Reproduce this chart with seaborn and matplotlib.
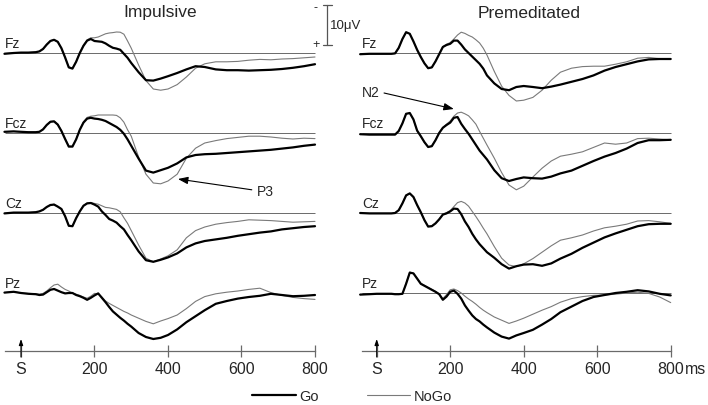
import numpy as np
import pandas as pd
import matplotlib
matplotlib.use("Agg")
import matplotlib.pyplot as plt
import seaborn as sns
from matplotlib.lines import Line2D

# ---------------- data (microvolts, positive plotted downward) ----------------
time_ms = [-45, -20, 0, 20, 40, 50, 60, 70, 80, 90,
           100, 110, 120, 130, 140, 150, 160, 170, 180, 190,
           200, 210, 220, 230, 240, 250, 260, 270, 280, 290,
           300, 320, 340, 360, 380, 400, 425, 450, 475, 500,
           530, 560, 590, 620, 650, 680, 710, 740, 770, 800]

electrodes = ["Fz", "Fcz", "Cz", "Pz"]
tick_ms = [0, 200, 400, 600, 800]
tick_labels = ["S", "200", "400", "600", "800"]
conditions = ["Go", "NoGo"]
panel_titles = ["Impulsive", "Premeditated"]

imp_go_fz = [0.2, 0.0, -0.1, -0.1, -0.2, -0.4, -1.0, -2.1, -3.0, -3.3,
             -2.8, -1.2, 1.1, 3.6, 3.9, 2.2, 0.0, -1.8, -3.1, -3.5,
             -3.0, -2.9, -2.8, -2.4, -1.8, -1.3, -1.1, -0.8, 0.2, 1.2,
             2.5, 4.8, 6.8, 6.9, 6.4, 5.8, 5.0, 4.1, 3.3, 3.5,
             4.1, 4.3, 4.3, 4.4, 4.3, 4.2, 4.0, 3.7, 3.3, 2.8]
imp_nogo_fz = [0.1, 0.0, -0.1, -0.1, -0.2, -0.4, -1.1, -2.2, -3.1, -3.3,
               -2.8, -1.1, 1.2, 3.5, 3.8, 2.1, -0.1, -2.0, -3.3, -3.8,
               -3.8, -4.0, -4.4, -4.8, -5.0, -5.1, -5.25, -5.2, -4.7, -3.0,
               -1.2, 3.0, 6.9, 9.0, 9.3, 9.0, 7.9, 6.0, 3.8, 2.7,
               2.2, 2.2, 2.1, 1.8, 1.6, 1.7, 1.5, 1.4, 1.2, 1.0]
imp_go_fcz = [-0.3, -0.4, -0.3, -0.2, -0.2, -0.3, -0.9, -2.0, -2.8, -2.9,
              -2.1, -0.5, 1.5, 3.4, 3.4, 1.6, -0.8, -2.6, -3.6, -3.8,
              -3.6, -3.5, -3.3, -3.0, -2.5, -2.0, -1.5, -0.8, 0.2, 1.6,
              3.2, 6.4, 9.4, 9.9, 9.3, 8.7, 7.6, 6.1, 5.5, 5.3,
              5.2, 5.0, 4.8, 4.6, 4.4, 4.2, 3.9, 3.6, 3.2, 2.9]
imp_nogo_fcz = [-0.3, -0.4, -0.3, -0.2, -0.2, -0.3, -1.0, -2.1, -2.9, -3.0,
                -2.2, -0.6, 1.4, 3.3, 3.3, 1.5, -0.9, -2.8, -3.9, -4.2,
                -4.3, -4.5, -4.5, -4.5, -4.5, -4.5, -4.4, -3.8, -2.7, -0.8,
                0.8, 6.0, 10.3, 12.5, 12.7, 12.0, 10.3, 6.3, 3.8, 2.5,
                1.9, 1.4, 1.1, 0.8, 0.8, 1.0, 1.3, 1.5, 1.3, 1.4]
imp_go_cz = [0.1, -0.1, -0.1, -0.1, -0.2, -0.4, -0.8, -1.5, -2.0, -2.1,
             -1.6, -1.0, 0.8, 3.2, 3.3, 1.3, -0.4, -1.8, -2.4, -2.5,
             -2.1, -1.6, -0.4, 0.5, 1.5, 1.9, 2.4, 3.3, 4.1, 5.5,
             6.8, 9.6, 11.8, 12.2, 11.7, 11.1, 10.1, 8.6, 7.6, 7.0,
             6.6, 6.2, 5.7, 5.3, 4.9, 4.6, 4.1, 3.8, 3.5, 3.3]
imp_nogo_cz = [0.1, -0.1, -0.1, -0.1, -0.2, -0.4, -0.8, -1.5, -2.0, -2.2,
               -1.6, -1.0, 0.8, 3.1, 3.2, 1.2, -0.5, -1.9, -2.5, -2.6,
               -2.4, -2.2, -1.8, -1.4, -1.3, -1.1, -0.9, -0.3, 1.2, 2.6,
               4.4, 8.0, 11.3, 12.2, 11.5, 10.7, 9.2, 6.2, 4.4, 3.5,
               2.8, 2.4, 2.1, 1.7, 1.8, 1.9, 2.1, 2.3, 2.2, 2.1]
imp_go_pz = [-0.1, -0.3, 0.0, 0.2, 0.3, 0.5, 0.4, -0.2, -0.8, -1.0,
             -0.6, -0.2, 0.1, 0.0, 0.0, 0.5, 0.8, 1.2, 1.7, 1.2,
             0.6, 0.1, 1.2, 2.3, 3.5, 4.6, 5.4, 6.2, 6.9, 7.7,
             8.4, 10.0, 11.0, 11.5, 11.2, 10.5, 9.1, 7.3, 5.8, 4.3,
             2.7, 2.0, 1.4, 1.0, 0.7, 0.2, 0.5, 0.8, 0.7, 0.5]
imp_nogo_pz = [-0.1, -0.3, 0.0, 0.1, 0.2, 0.3, 0.1, -0.5, -1.3, -2.0,
               -2.2, -1.5, -0.9, -0.5, 0.0, 0.3, 0.6, 1.0, 1.3, 0.8,
               0.1, 0.2, 1.0, 2.0, 2.6, 3.1, 3.6, 4.1, 4.6, 5.0,
               5.5, 6.3, 7.1, 7.7, 7.0, 6.4, 5.5, 3.9, 2.1, 0.9,
               0.2, -0.2, -0.5, -0.9, -1.2, -0.1, 0.6, 1.1, 1.4, 1.6]

prem_go_fz = [0.3, 0.2, 0.2, 0.2, 0.2, 0.1, -1.3, -3.5, -5.2, -4.8,
              -2.9, -0.8, 1.0, 2.6, 3.8, 3.6, 2.1, 0.3, -1.5, -2.0,
              -2.3, -3.1, -3.1, -2.1, -0.9, 0.0, 0.9, 1.8, 2.7, 3.9,
              5.6, 7.6, 9.0, 9.3, 8.5, 8.25, 8.5, 8.8, 8.4, 7.9,
              7.2, 6.5, 5.6, 4.4, 3.5, 2.8, 2.1, 1.6, 1.5, 1.5]
prem_nogo_fz = [0.3, 0.2, 0.2, 0.2, 0.2, 0.1, -1.3, -3.5, -5.2, -4.8,
                -2.9, -0.8, 1.0, 2.6, 3.8, 3.6, 2.0, 0.2, -1.6, -2.2,
                -2.6, -3.5, -4.5, -5.2, -4.9, -4.4, -4.0, -3.3, -2.5, -1.2,
                0.5, 4.6, 8.3, 10.6, 12.0, 11.8, 11.1, 9.3, 6.8, 4.8,
                3.8, 3.4, 3.3, 3.3, 2.8, 2.2, 1.3, 1.1, 1.4, 1.4]
prem_go_fcz = [0.3, 0.4, 0.4, 0.4, 0.4, 0.4, -0.5, -2.4, -4.8, -5.0,
               -3.4, -0.6, 0.8, 2.3, 3.5, 3.3, 1.8, 0.0, -1.3, -2.0,
               -2.6, -3.8, -4.0, -2.3, -1.0, 0.2, 1.6, 3.0, 4.4, 5.5,
               6.6, 9.3, 11.3, 12.0, 11.5, 11.1, 11.3, 11.4, 10.9, 10.1,
               9.4, 8.2, 7.0, 5.9, 5.0, 3.9, 2.5, 1.8, 1.8, 1.7]
prem_nogo_fcz = [0.3, 0.4, 0.4, 0.4, 0.4, 0.4, -0.6, -2.5, -4.8, -4.9,
                 -3.3, -0.6, 0.9, 2.4, 3.5, 3.2, 1.7, -0.1, -1.4, -2.2,
                 -3.0, -4.2, -5.0, -5.2, -4.8, -4.3, -3.3, -2.2, -0.4, 1.3,
                 3.0, 6.3, 9.9, 13.0, 14.2, 13.3, 11.0, 8.8, 7.0, 5.8,
                 5.3, 4.7, 3.6, 2.5, 2.8, 2.5, 1.4, 1.3, 1.5, 1.7]
prem_go_cz = [0.0, 0.1, 0.1, 0.1, 0.1, 0.0, -0.7, -2.4, -4.4, -4.9,
              -4.0, -2.0, -0.2, 1.8, 3.4, 3.3, 2.6, 1.6, 0.4, 0.1,
              -0.4, -1.1, -1.0, 0.3, 2.1, 3.5, 5.2, 6.6, 7.8, 8.8,
              9.8, 11.2, 12.8, 13.9, 13.3, 12.9, 12.8, 13.2, 12.6, 11.4,
              10.2, 8.7, 7.4, 6.1, 5.1, 4.2, 3.3, 2.8, 2.7, 2.7]
prem_nogo_cz = [0.0, 0.1, 0.1, 0.1, 0.1, 0.0, -0.8, -2.5, -4.5, -4.9,
                -3.9, -1.9, -0.1, 1.8, 3.3, 3.2, 2.5, 1.5, 0.3, -0.1,
                -0.6, -1.6, -2.6, -2.9, -2.5, -1.7, -0.4, 0.9, 2.3, 3.8,
                5.2, 8.4, 11.3, 13.0, 13.4, 12.7, 11.4, 9.8, 8.2, 6.8,
                6.2, 5.5, 4.5, 3.7, 3.3, 2.8, 2.0, 1.9, 2.2, 2.6]
prem_go_pz = [0.4, 0.3, 0.2, 0.2, 0.2, 0.3, 0.3, 0.2, -2.3, -5.1,
              -4.9, -3.6, -2.3, -1.8, -1.3, -0.8, -0.3, 0.3, 1.7, 0.9,
              -0.3, -0.6, 0.2, 1.4, 3.1, 4.4, 5.6, 6.5, 7.1, 7.9,
              8.6, 9.9, 10.9, 11.4, 10.6, 10.0, 9.2, 7.9, 6.5, 4.8,
              3.4, 2.0, 1.0, 0.5, 0.0, -0.3, -0.7, -0.4, 0.2, 0.6]
prem_nogo_pz = [0.4, 0.3, 0.2, 0.2, 0.2, 0.3, 0.3, 0.2, -2.4, -5.2,
                -4.9, -3.7, -2.4, -1.9, -1.4, -0.9, -0.4, 0.2, 1.4, 0.4,
                -0.8, -1.0, -0.6, 0.0, 0.8, 1.5, 2.1, 2.8, 3.6, 4.3,
                4.9, 6.0, 6.8, 7.6, 7.0, 6.3, 5.3, 4.3, 3.4, 2.3,
                1.4, 0.9, 0.6, 0.5, 0.3, 0.0, -0.2, 0.1, 1.0, 2.4]

scale_uv = 10

panels = [
    {"Go": [imp_go_fz, imp_go_fcz, imp_go_cz, imp_go_pz],
     "NoGo": [imp_nogo_fz, imp_nogo_fcz, imp_nogo_cz, imp_nogo_pz]},
    {"Go": [prem_go_fz, prem_go_fcz, prem_go_cz, prem_go_pz],
     "NoGo": [prem_nogo_fz, prem_nogo_fcz, prem_nogo_cz, prem_nogo_pz]},
]

# ---------------- layout / style ----------------
sns.set_style("white")
plt.rcParams["font.family"] = ["Liberation Sans", "DejaVu Sans"]

W, H = 708, 406
fig = plt.figure(figsize=(W / 100, H / 100), dpi=100)

PX_PER_MS = 0.3675
PX_PER_UV = 4.0
BASE_PX = 54.0
XLIM = (-55, 830)
YLIM = (82, -13)
offsets = [0, 20, 40, 60]
axis_y = 74.5
zero_px = [21.0, 376.7]
start_ms = [-44, -40]
baseline_counts = [3, 4]

GO_COLOR, NOGO_COLOR = "black", "#7a7a7a"
GO_LW, NOGO_LW = 1.6, 0.8
GRID_COLOR = "#6a6a6a"


def make_ax(zp):
    x0 = zp + XLIM[0] * PX_PER_MS
    x1 = zp + XLIM[1] * PX_PER_MS
    y_top = BASE_PX + YLIM[1] * PX_PER_UV
    y_bot = BASE_PX + YLIM[0] * PX_PER_UV
    ax = fig.add_axes([x0 / W, 1 - y_bot / H, (x1 - x0) / W, (y_bot - y_top) / H])
    return ax


axes = []
for p, series in enumerate(panels):
    ax = make_ax(zero_px[p])
    rows = []
    for cond in conditions:
        for el, off, vals in zip(electrodes, offsets, series[cond]):
            for t, v in zip(time_ms, vals):
                rows.append((t, v + off, cond, el))
    df = pd.DataFrame(rows, columns=["time", "y", "cond", "electrode"])

    # baselines
    ax.hlines(offsets[:baseline_counts[p]], start_ms[p], 800,
              color=GRID_COLOR, lw=0.7, zorder=1)

    sns.lineplot(data=df[df.cond == "NoGo"], x="time", y="y", units="electrode",
                 estimator=None, color=NOGO_COLOR, linewidth=NOGO_LW, ax=ax,
                 legend=False, zorder=2)
    sns.lineplot(data=df[df.cond == "Go"], x="time", y="y", units="electrode",
                 estimator=None, color=GO_COLOR, linewidth=GO_LW, ax=ax,
                 legend=False, zorder=3)

    ax.set_xlim(*XLIM)
    ax.set_ylim(*YLIM)
    ax.set_xlabel("")
    ax.set_ylabel("")
    ax.patch.set_visible(False)
    for s in ["top", "left", "right"]:
        ax.spines[s].set_visible(False)
    ax.spines["bottom"].set_position(("data", axis_y))
    ax.spines["bottom"].set_bounds(start_ms[p], 800)
    ax.spines["bottom"].set_color(GRID_COLOR)
    ax.spines["bottom"].set_linewidth(0.9)
    ax.set_yticks([])
    ax.set_xticks(tick_ms)
    ax.set_xticklabels(tick_labels)
    ax.tick_params(axis="x", direction="inout", length=8, width=0.9,
                   color=GRID_COLOR, labelsize=11.5, pad=3.5, bottom=True)

    # stimulus arrow
    ax.annotate("", xy=(0, axis_y - 3.0), xytext=(0, axis_y + 1.5),
                arrowprops=dict(arrowstyle="-|>,head_length=0.35,head_width=0.12",
                                color="black", lw=0.8, shrinkA=0, shrinkB=0))

    # electrode labels
    for el, off in zip(electrodes, offsets):
        ax.text(start_ms[p], off - 0.8, el, fontsize=10, ha="left", va="bottom")

    fig.text([160, 529][p] / W, 1 - 13 / H, panel_titles[p],
             ha="center", va="center", fontsize=12.5)
    axes.append(ax)

axL, axR = axes

# scale bar (10 uV)
sb_x = (327 - 21) / PX_PER_MS
sb_top, sb_bot = -2 - scale_uv, -2
axL.plot([sb_x, sb_x], [sb_top, sb_bot], color="#555555", lw=0.9, clip_on=False)
for yy in (sb_top, sb_bot):
    axL.plot([sb_x - 11, sb_x + 13], [yy, yy], color="#555555", lw=0.9, clip_on=False)
axL.text(sb_x - 32, sb_top + 0.6, "-", fontsize=9, ha="center", va="center")
axL.text(sb_x - 31, sb_bot - 0.3, "+", fontsize=9, ha="center", va="center")
axL.text(sb_x + 8, (sb_top + sb_bot) / 2, "10\u03bcV", fontsize=9.5,
         ha="left", va="center")

# component annotations
axL.annotate("", xy=(427, 31.5), xytext=(628, 34.2),
             arrowprops=dict(arrowstyle="-|>,head_length=0.6,head_width=0.22",
                             color="black", lw=0.8, shrinkA=0, shrinkB=0))
axL.text(642, 34.6, "P3", fontsize=10, ha="left", va="center")
axR.annotate("", xy=(210, 14.0), xytext=(20, 10.0),
             arrowprops=dict(arrowstyle="-|>,head_length=0.6,head_width=0.22",
                             color="black", lw=0.8, shrinkA=0, shrinkB=0))
axR.text(-39, 9.7, "N2", fontsize=10, ha="left", va="center")
axR.text(839, 79.0, "ms", fontsize=11.5, ha="left", va="center")

# legend
handles = [Line2D([], [], color=GO_COLOR, lw=GO_LW),
           Line2D([], [], color=NOGO_COLOR, lw=NOGO_LW)]
fig.legend(handles, conditions, loc="center", bbox_to_anchor=(352 / W, 1 - 397 / H),
           ncol=2, frameon=False, fontsize=10.5, handlelength=3.0,
           handletextpad=0.2, columnspacing=3.3)

fig.savefig("out.png", dpi=100)
